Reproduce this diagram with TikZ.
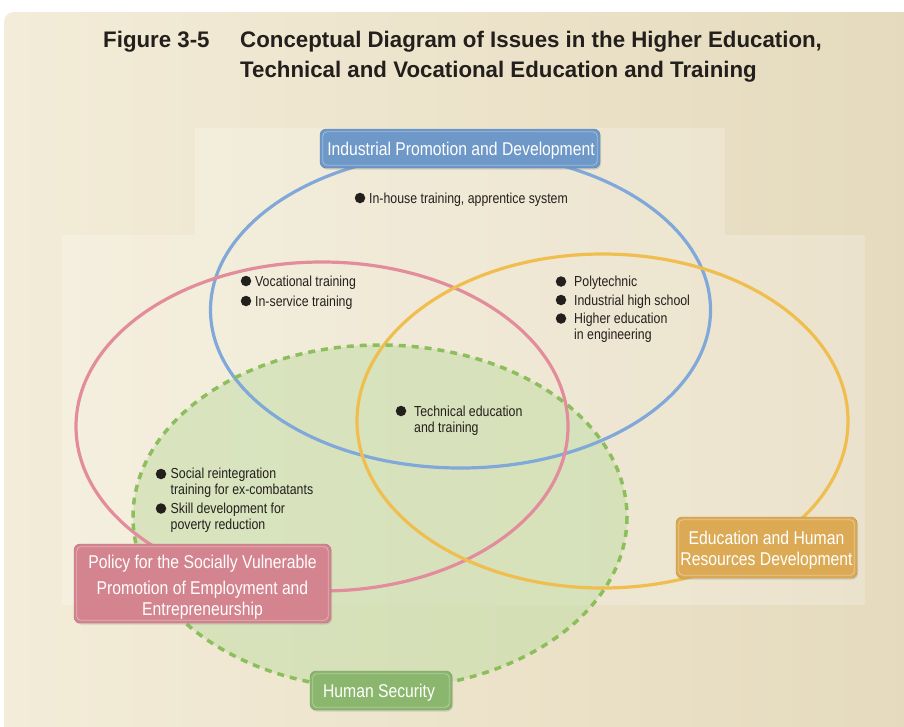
\documentclass[tikz,border=0pt]{standalone}
\usepackage{fontspec}
\setmainfont{Liberation Sans}[FakeStretch=0.85]
\newfontfamily\headfont{Liberation Sans}[FakeStretch=0.99]
\usetikzlibrary{shadows}

\definecolor{bgA}{HTML}{F3ECD8}
\definecolor{bgB}{HTML}{E5DABD}
\definecolor{ringBlue}{HTML}{80A8D8}
\definecolor{ringPink}{HTML}{E28C9C}
\definecolor{ringYellow}{HTML}{F0BE4E}
\definecolor{ringGreen}{HTML}{8CBE5C}
\definecolor{zoneGreen}{HTML}{C4DEA8}
\definecolor{boxBlue}{HTML}{6E98C8}
\definecolor{boxPink}{HTML}{D4848F}
\definecolor{boxYellow}{HTML}{DCAA55}
\definecolor{boxGreen}{HTML}{8AB66D}
\definecolor{ink}{HTML}{231F1C}

\tikzset{
  ring/.style={line width=3.2pt},
  tagbox/.style={rounded corners=6pt, inner sep=0pt,
    drop shadow={opacity=0.25, shadow xshift=1pt, shadow yshift=-1.5pt}},
  tagtext/.style={text=white, align=center, inner sep=0pt,
    font=\fontsize{18.5}{21}\selectfont},
  glint/.style={draw=white, opacity=0.35, line width=0.8pt, rounded corners=4pt},
  dotmark/.style={circle, fill=ink, inner sep=0pt, minimum size=10.5pt},
  itemtext/.style={anchor=base west, inner sep=0pt, text=ink,
    font=\fontsize{14.5}{16}\selectfont},
}
\newcommand{\lines}[1]{\begin{tabular}[t]{@{}l@{}}#1\end{tabular}}

\begin{document}
\begin{tikzpicture}[x=1pt, y=-1pt]
  \useasboundingbox (0,0) rectangle (904,726);
  \fill[white] (0,0) rectangle (904,726);

  % paper background
  \shade[left color=bgA, right color=bgB, rounded corners=10pt]
    (4,12) rectangle (920,740);
  \fill[white, opacity=0.22] (195,128) rectangle (725,235);
  \fill[white, opacity=0.22] (62,235) rectangle (865,605);

  % title
  \node[anchor=base west, inner sep=0pt, text=ink,
        font=\headfont\bfseries\fontsize{22.5}{30.5}\selectfont] (fig) at (103,47) {Figure 3-5};
  \node[anchor=base west, inner sep=0pt, text=ink,
        font=\headfont\bfseries\fontsize{22.5}{30.5}\selectfont] (ttl) at (240,47)
    {\lines{Conceptual Diagram of Issues in the Higher Education,\\Technical and Vocational Education and Training}};

  % human security zone
  \fill[zoneGreen, opacity=0.55] (380,517) ellipse [x radius=247, y radius=172];

  % rings
  \draw[ring, ringBlue] (460.5,310) ellipse [x radius=250, y radius=158];
  \draw[ring, ringPink] (322,426.5) ellipse [x radius=246, y radius=164.5];
  \draw[ring, ringYellow] (602.5,421) ellipse [x radius=245.5, y radius=167];
  \draw[ringGreen, line width=3.5pt, dash pattern=on 7pt off 6pt]
    (380,517) ellipse [x radius=247, y radius=172];

  % labels of the four fields
  \node[tagbox, fill=boxBlue, draw=boxBlue!85!black, minimum width=280pt, minimum height=39pt]
    (ind) at (460,148.5) {};
  \draw[glint] ([shift={(3pt,-3pt)}]ind.north west) rectangle ([shift={(-3pt,3pt)}]ind.south east);
  \node[tagtext] (indt) at (461,150.5) {Industrial Promotion and Development};

  \node[tagbox, fill=boxPink, draw=boxPink!85!black, minimum width=257pt, minimum height=79pt]
    (pol) at (202.5,583.5) {};
  \draw[glint] ([shift={(3pt,-3pt)}]pol.north west) rectangle ([shift={(-3pt,3pt)}]pol.south east);
  \node[tagtext] (polt) at (202.5,587.5)
    {Policy for the Socially Vulnerable\\[5pt]Promotion of Employment and\\Entrepreneurship};

  \node[tagbox, fill=boxYellow, draw=boxYellow!85!black, minimum width=181pt, minimum height=61pt]
    (edu) at (766.5,547.5) {};
  \draw[glint] ([shift={(3pt,-3pt)}]edu.north west) rectangle ([shift={(-3pt,3pt)}]edu.south east);
  \node[tagtext] (edut) at (766.5,550) {Education and Human\\Resources Development};

  \node[tagbox, fill=boxGreen, draw=boxGreen!85!black, minimum width=142pt, minimum height=39pt]
    (hum) at (381,690.5) {};
  \draw[glint] ([shift={(3pt,-3pt)}]hum.north west) rectangle ([shift={(-3pt,3pt)}]hum.south east);
  \node[tagtext] (humt) at (379,692.5) {Human Security};

  % items
  \node[dotmark] (d1) at (360,198) {};
  \node[itemtext] (t1) at (369,203) {In-house training, apprentice system};

  \node[dotmark] (d2) at (246,281) {};
  \node[itemtext] (t2) at (255,286) {Vocational training};
  \node[dotmark] (d3) at (246,301) {};
  \node[itemtext] (t3) at (255,306) {In-service training};

  \node[dotmark] (d4) at (561,281.5) {};
  \node[itemtext] (t4) at (574,286) {Polytechnic};
  \node[dotmark] (d5) at (561,300) {};
  \node[itemtext] (t5) at (574,305) {Industrial high school};
  \node[dotmark] (d6) at (561,318.5) {};
  \node[itemtext] (t6) at (574,323.5) {\lines{Higher education\\in engineering}};

  \node[dotmark] (d7) at (401,411) {};
  \node[itemtext] (t7) at (414,416) {\lines{Technical education\\and training}};

  \node[dotmark] (d8) at (161,474) {};
  \node[itemtext] (t8) at (170.5,478.5) {\lines{Social reintegration\\training for ex-combatants}};
  \node[dotmark] (d9) at (161,508.5) {};
  \node[itemtext] (t9) at (170.5,513.5) {\lines{Skill development for\\poverty reduction}};
\end{tikzpicture}
\end{document}
